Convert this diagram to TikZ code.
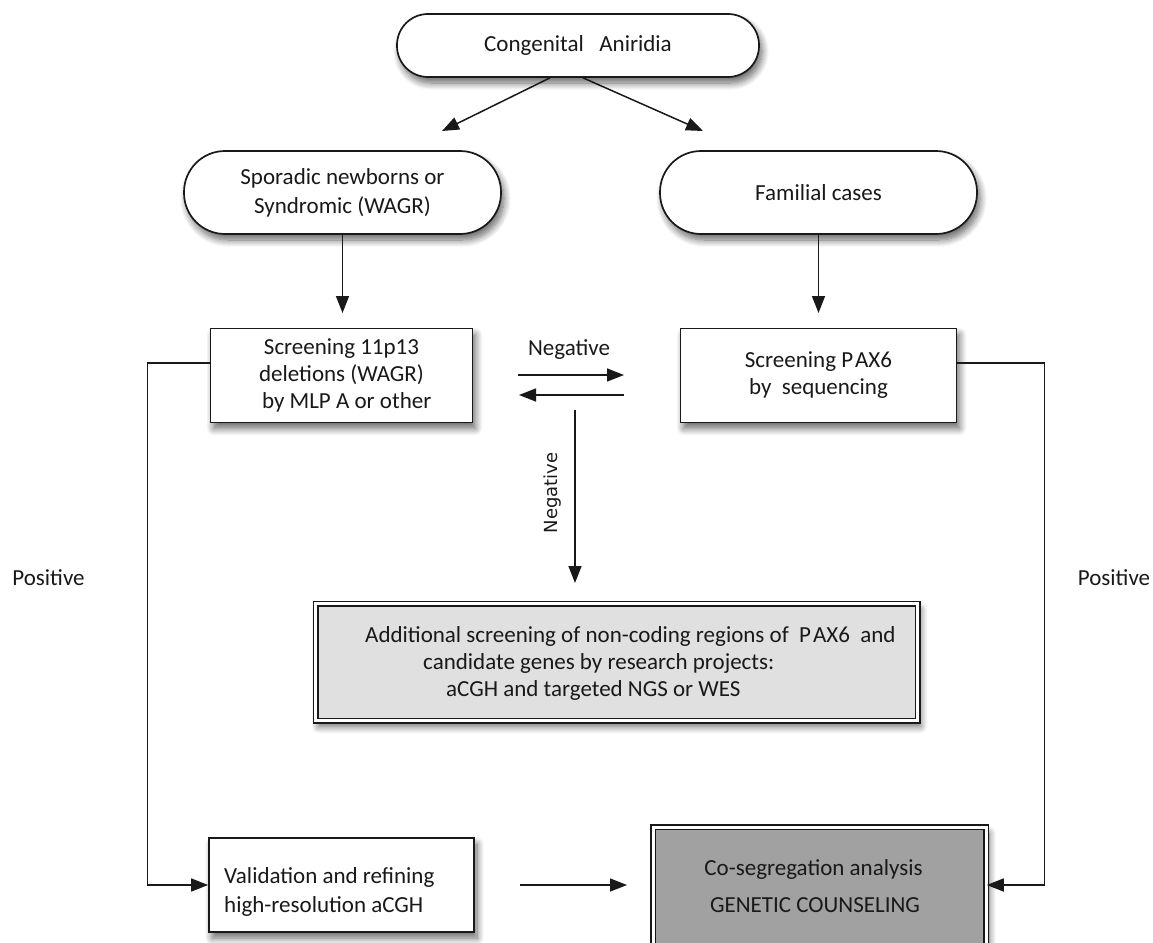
\documentclass[tikz,border=0pt]{standalone}
\usepackage{fontspec}
\setmainfont{Carlito}
\newfontfamily\dejavu{DejaVu Sans}
\usetikzlibrary{arrows.meta,shadows.blur}

\tikzset{
  txt/.style={font=\fontsize{23}{29}\selectfont, text=black!90},
  softshadow/.style={blur shadow={shadow xshift=3pt, shadow yshift=-6pt,
      shadow blur radius=7pt, shadow blur steps=10, shadow opacity=60}},
  stadium/.style={txt, draw=black!90, line width=1.7pt, fill=white,
      rounded corners=#1, inner sep=0pt, align=center, softshadow},
  plainbox/.style={txt, draw=black!90, line width=1.7pt, fill=white,
      inner sep=0pt, align=center, softshadow},
  dblbox/.style={txt, draw=black!90, line width=1.5pt, double=white,
      double distance=3pt, inner sep=0pt, softshadow},
  link/.style={line width=1.5pt, draw=black!90,
      -{Triangle[length=17pt,width=13pt]}},
  label/.style={txt, inner sep=0pt},
}

\begin{document}
\begin{tikzpicture}[x=1pt, y=-1pt]
  \useasboundingbox (0,0) rectangle (1153,942);
  \clip (0,0) rectangle (1153,942);

  % entry point
  \node[stadium=31pt, minimum width=362pt, minimum height=63pt] (ca) at (578,45.5)
    {Congenital\ \ \ Aniridia};

  % the two patient groups
  \node[stadium=41pt, minimum width=317pt, minimum height=83pt] (sp) at (342.5,192.5)
    {Sporadic newborns or\\Syndromic (WAGR)};
  \node[stadium=41pt, minimum width=317pt, minimum height=83pt] (fa) at (818.5,192.5)
    {Familial cases};

  % first-line screening
  \node[plainbox, minimum width=262pt, minimum height=94pt,
        font=\fontsize{23}{27}\selectfont] (s11) at (341.5,375.5)
    {Screening 11p13\\deletions (WAGR)\\\ \ by MLP\ A or other};
  \node[plainbox, minimum width=276pt, minimum height=94pt,
        font=\fontsize{23}{27}\selectfont] (pax) at (818.5,375.5)
    {Screening P\kern2pt AX6\\by\ \ sequencing};

  % research screening
  \node[dblbox, fill=black!12, minimum width=602pt, minimum height=117pt] (add) at (616.5,662) {};
  \node[label, anchor=base west] (add1) at (365,642)
    {Additional screening of non-coding regions of\ \ P\kern2pt AX6\ \ and};
  \node[label, anchor=base west] (add2) at (423,669)
    {candidate genes by research projects:};
  \node[label, anchor=base west] (add3) at (446,696)
    {aCGH and targeted NGS or WES};

  % validation and counselling
  \node[plainbox, minimum width=265pt, minimum height=94pt] (val) at (341.5,885) {};
  \node[label, anchor=base west] (val1) at (224,883) {Validation and refining};
  \node[label, anchor=base west] (val2) at (224,912) {high-resolution aCGH};

  \node[dblbox, fill=black!37, minimum width=333pt, minimum height=133pt] (cs) at (819.5,893.5) {};
  \node[label, anchor=base] (cs1) at (813.5,875) {Co-segregation analysis};
  \node[label, anchor=base] (cs2) at (815,912) {GENETIC COUNSELING};

  % edge labels
  \node[label, anchor=base] (neg1) at (569,355) {Negative};
  \node[inner sep=0pt, rotate=90, font=\dejavu\fontsize{18}{20}\selectfont, text=black!90]
    (neg2) at (553,493) {Negative};
  \node[label] (pos1) at (48.5,578) {Positive};
  \node[label] (pos2) at (1114,578) {Positive};

  % free arrow ends
  \coordinate (t1) at (442,131);
  \coordinate (t2) at (703,131);
  \coordinate (t3) at (342.5,313);
  \coordinate (t4) at (818.5,313);
  \coordinate (n1a) at (518,375);
  \coordinate (n1b) at (624,375);
  \coordinate (n2a) at (624,395);
  \coordinate (n2b) at (519,395);
  \coordinate (n3a) at (575,410);
  \coordinate (n3b) at (575,583);
  \coordinate (v1) at (520,885);
  \coordinate (v2) at (627,885);

  % connectors
  \draw[link] ([xshift=-28pt]ca.south) -- (t1);
  \draw[link] ([xshift=5pt]ca.south) -- (t2);
  \draw[link] (sp.south) -- (t3);
  \draw[link] (fa.south) -- (t4);
  \draw[link] (n1a) -- (n1b);
  \draw[link] (n2a) -- (n2b);
  \draw[link] (n3a) -- (n3b);
  \draw[link] ([yshift=12.5pt]s11.west) -- ++(-62,0) |- (val.west);
  \draw[link] ([yshift=12.5pt]pax.east) -- ++(87,0) |- (cs.east |- val.west);
  \draw[link] (v1) -- (v2);
\end{tikzpicture}
\end{document}
